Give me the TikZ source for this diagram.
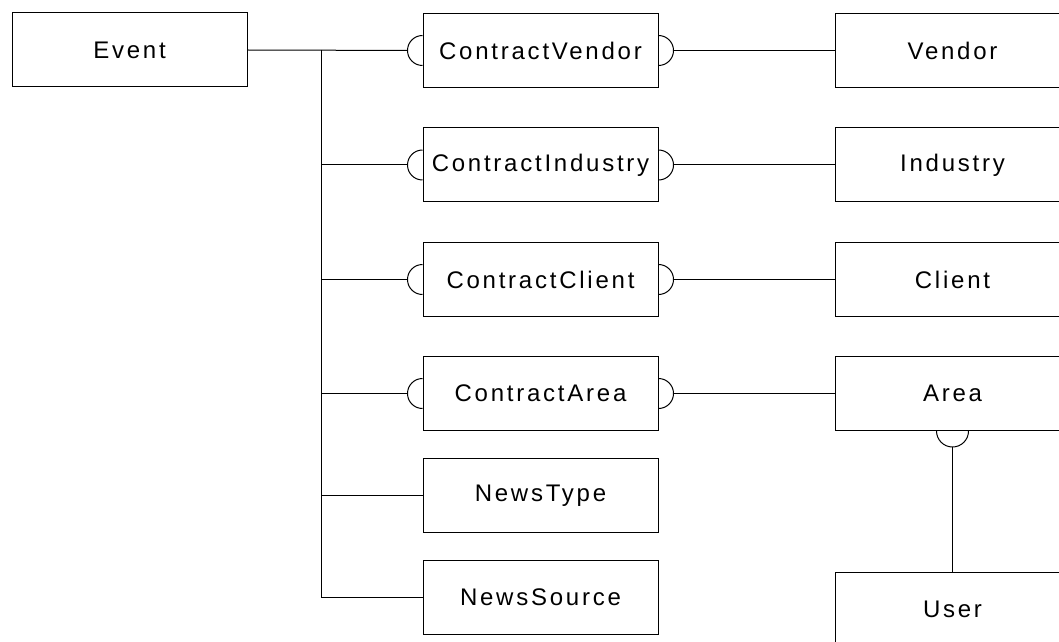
\documentclass[tikz,border=0pt]{standalone}
\usepackage{fontspec}
\setmainfont{Liberation Sans}[LetterSpace=11.5]
\begin{document}
\begin{tikzpicture}[x=1pt,y=1pt,line width=1pt,
	entity/.style={draw,minimum width=235pt,minimum height=74pt,inner sep=0pt,font=\fontsize{24}{28}\selectfont},
	link/.style={shorten >=15pt}]
	\def\r{15}
	\useasboundingbox (0,0) rectangle (1059,641);
	\clip (0,0) rectangle (1059,641);
	\node[entity] (event) at (129.5,591) {Event};
	\foreach \name/\y in {Vendor/590.5,Industry/476,Client/361.5,Area/247.5}{
		\node[entity] (c\name) at (540.5,\y) {Contract\name};
		\node[entity] (\name) at (952.5,\y) {\name};
		\draw (c\name.west) ++(0,\r) arc[start angle=90,end angle=270,radius=\r];
		\draw (c\name.east) ++(0,\r) arc[start angle=90,end angle=-90,radius=\r];
		\draw[shorten <=\r pt] (c\name.east) -- (\name.west);
	}
	\node[entity] (newstype) at (540.5,145.5) {NewsType};
	\node[entity] (newssource) at (540.5,43.5) {NewsSource};
	\node[entity] (User) at (952.5,31.5) {User};
	\coordinate (trunk) at (321,591);
	% event to the contract tables
	\draw[link] (event.east) -- (cVendor.west);
	\draw (trunk) -- (trunk |- newssource);
	\foreach \name in {Industry,Client,Area}
		\draw[link] (trunk |- c\name) -- (c\name.west);
	\draw (trunk |- newstype) -- (newstype.west);
	\draw (trunk |- newssource) -- (newssource.west);
	% area to user
	\draw (Area.south) ++(-16,0) arc[start angle=180,end angle=360,radius=16];
	\draw[shorten <=16pt] (Area.south) -- (User.north);
\end{tikzpicture}
\end{document}
